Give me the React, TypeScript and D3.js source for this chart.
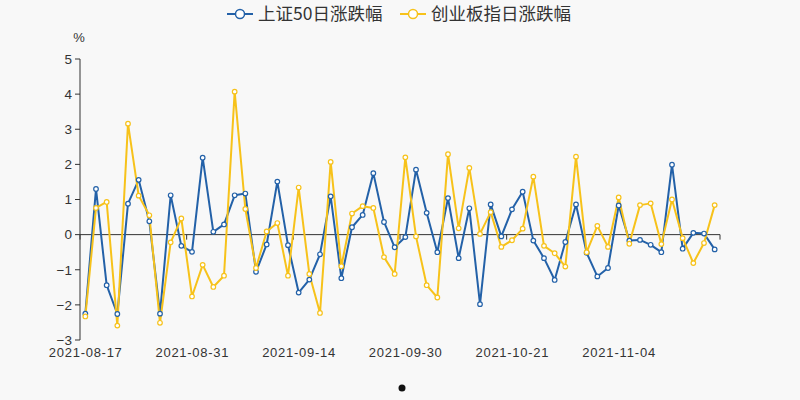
import React from "react";
import * as d3 from "d3";

const dates: string[] = [
  "2021-08-17","2021-08-18","2021-08-19","2021-08-20","2021-08-23","2021-08-24","2021-08-25","2021-08-26","2021-08-27","2021-08-30",
  "2021-08-31","2021-09-01","2021-09-02","2021-09-03","2021-09-06","2021-09-07","2021-09-08","2021-09-09","2021-09-10","2021-09-13",
  "2021-09-14","2021-09-15","2021-09-16","2021-09-17","2021-09-22","2021-09-23","2021-09-24","2021-09-27","2021-09-28","2021-09-29",
  "2021-09-30","2021-10-08","2021-10-11","2021-10-12","2021-10-13","2021-10-14","2021-10-15","2021-10-18","2021-10-19","2021-10-20",
  "2021-10-21","2021-10-22","2021-10-25","2021-10-26","2021-10-27","2021-10-28","2021-10-29","2021-11-01","2021-11-02","2021-11-03",
  "2021-11-04","2021-11-05","2021-11-08","2021-11-09","2021-11-10","2021-11-11","2021-11-12","2021-11-15","2021-11-16","2021-11-17",
];

const sz50: number[] = [
  -2.25, 1.30, -1.44, -2.26, 0.88, 1.56, 0.38, -2.25, 1.12, -0.32,
  -0.49, 2.19, 0.08, 0.29, 1.12, 1.17, -1.06, -0.28, 1.51, -0.30,
  -1.65, -1.28, -0.56, 1.09, -1.24, 0.21, 0.56, 1.75, 0.36, -0.36,
  -0.07, 1.85, 0.62, -0.50, 1.04, -0.67, 0.75, -1.98, 0.86, -0.05,
  0.72, 1.22, -0.17, -0.67, -1.29, -0.21, 0.86, -0.52, -1.19, -0.95,
  0.83, -0.17, -0.15, -0.29, -0.50, 1.99, -0.40, 0.05, 0.03, -0.42,
];

const cyb: number[] = [
  -2.33, 0.76, 0.93, -2.59, 3.16, 1.11, 0.55, -2.51, -0.22, 0.46,
  -1.76, -0.86, -1.49, -1.17, 4.07, 0.73, -0.95, 0.09, 0.33, -1.17,
  1.34, -1.12, -2.23, 2.07, -0.90, 0.60, 0.81, 0.76, -0.64, -1.12,
  2.20, -0.05, -1.44, -1.79, 2.29, 0.18, 1.90, 0.02, 0.64, -0.35,
  -0.16, 0.17, 1.65, -0.32, -0.53, -0.91, 2.22, -0.50, 0.25, -0.35,
  1.06, -0.26, 0.84, 0.89, -0.27, 1.00, -0.10, -0.81, -0.24, 0.84,
];

const xTickLabels: string[] = ["2021-08-17", "2021-08-31", "2021-09-14", "2021-09-30", "2021-10-21", "2021-11-04"];
const yTicks: number[] = [-3, -2, -1, 0, 1, 2, 3, 4, 5];
const seriesNames: string[] = ["上证50日涨跌幅", "创业板指日涨跌幅"];
const colors: string[] = ["#2361a8", "#f7c21a"];

export default function App() {
  const W = 800, H = 400;
  const left = 80, right = 720, top = 59, bottom = 340;
  const x = d3.scaleBand<string>().domain(dates).range([left, right]).paddingInner(0).paddingOuter(0);
  const y = d3.scaleLinear().domain([-3, 5]).range([bottom, top]);
  const cx = (d: string) => (x(d) as number) + x.bandwidth() / 2;
  const line = d3.line<number>().x((_, i) => cx(dates[i])).y((v) => y(v));
  const series = [sz50, cyb];
  const tickIdx = [0, 10, 20, 30, 40, 50, 60];
  const axisFont = "'Liberation Sans', Arial, sans-serif";
  const legendFont = "'Noto Sans CJK SC', sans-serif";

  const legendItems = [
    { x0: 227, tx: 258 },
    { x0: 400, tx: 431 },
  ];

  return (
    <svg width={W} height={H} style={{ position: "absolute", left: 0, top: 0, background: "#f8f8f8" }}>
      <rect x={0} y={0} width={W} height={H} fill="#f8f8f8" />
      {/* legend */}
      {seriesNames.map((name, k) => (
        <g key={name}>
          <line x1={legendItems[k].x0} x2={legendItems[k].x0 + 26} y1={14} y2={14} stroke={colors[k]} strokeWidth={2} />
          <circle cx={legendItems[k].x0 + 13} cy={14} r={4.5} fill="#fff" stroke={colors[k]} strokeWidth={1.5} />
          <text x={legendItems[k].tx} y={20} fontSize={17.5} fill="#333" fontFamily={legendFont}>{name}</text>
        </g>
      ))}
      {/* y axis */}
      <text x={79} y={42} fontSize={13} fill="#333" textAnchor="middle" fontFamily={axisFont}>%</text>
      <line x1={left} x2={left} y1={y(5)} y2={y(-3)} stroke="#333" strokeWidth={1} />
      {yTicks.map((t) => (
        <g key={t}>
          <line x1={left - 5} x2={left} y1={y(t)} y2={y(t)} stroke="#333" strokeWidth={1} />
          <text x={72} y={y(t)} dy="0.36em" fontSize={13.5} fill="#333" textAnchor="end" fontFamily={axisFont}>{t < 0 ? "\u2212" + Math.abs(t) : t}</text>
        </g>
      ))}
      {/* x axis at zero */}
      <line x1={left} x2={right} y1={y(0)} y2={y(0)} stroke="#333" strokeWidth={1} />
      {tickIdx.map((i) => {
        const px = i < dates.length ? (x(dates[i]) as number) : right;
        return <line key={i} x1={px} x2={px} y1={y(0)} y2={y(0) + 5} stroke="#333" strokeWidth={1} />;
      })}
      {xTickLabels.map((l) => (
        <text key={l} x={cx(l)} y={357} fontSize={13} fill="#333" textAnchor="middle" fontFamily={axisFont}
          textLength={73} lengthAdjust="spacing">{l}</text>
      ))}
      {/* lines */}
      {series.map((s, k) => (
        <path key={k} d={line(s) || ""} fill="none" stroke={colors[k]} strokeWidth={2} strokeLinejoin="round" />
      ))}
      {series.map((s, k) => (
        <g key={"m" + k}>
          {s.map((v, i) => (
            <circle key={i} cx={cx(dates[i])} cy={y(v)} r={2.3} fill="#fff" stroke={colors[k]} strokeWidth={1.2} />
          ))}
        </g>
      ))}
      {/* pagination dot */}
      <circle cx={402} cy={388} r={3.5} fill="#111" />
    </svg>
  );
}
